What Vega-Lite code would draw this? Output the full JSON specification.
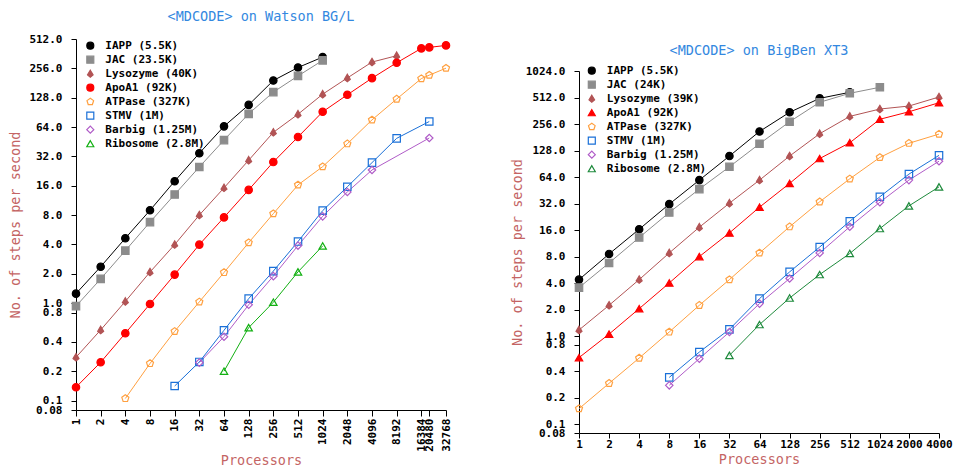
{
  "$schema": "https://vega.github.io/schema/vega-lite/v6.json",
  "padding": {"left": 8, "top": 9, "right": 0, "bottom": 0},
  "spacing": 57,
  "config": {
    "view": {"stroke": null},
    "font": "DejaVu Sans Mono",
    "axis": {
      "grid": false,
      "domainColor": "#000000",
      "domainWidth": 1,
      "tickColor": "#000000",
      "tickSize": 5,
      "labelFont": "DejaVu Sans Mono",
      "labelFontSize": 11,
      "labelFontWeight": "bold",
      "labelColor": "#000000",
      "labelOverlap": false,
      "labelFlush": false,
      "labelBound": false,
      "titleFont": "DejaVu Sans Mono",
      "titleFontSize": 13.5,
      "titleFontWeight": "normal",
      "titleColor": "#c46464"
    },
    "title": {
      "font": "DejaVu Sans Mono",
      "fontSize": 13.5,
      "fontWeight": "normal",
      "color": "#3388e0",
      "anchor": "middle",
      "frame": "group"
    },
    "legend": {
      "orient": "none",
      "padding": 0,
      "rowPadding": 0,
      "labelFont": "DejaVu Sans Mono",
      "labelFontSize": 11,
      "labelFontWeight": "bold",
      "labelOffset": 9.5,
      "symbolSize": 49,
      "symbolStrokeWidth": 1.2,
      "labelLimit": 300
    }
  },
  "datasets": {
    "bgl": [
      {"s": "IAPP (5.5K)", "p": 1, "v": 1.25}, {"s": "IAPP (5.5K)", "p": 2, "v": 2.36}, {"s": "IAPP (5.5K)", "p": 4, "v": 4.63}, {"s": "IAPP (5.5K)", "p": 8, "v": 8.95}, {"s": "IAPP (5.5K)", "p": 16, "v": 17.8}, {"s": "IAPP (5.5K)", "p": 32, "v": 34.5}, {"s": "IAPP (5.5K)", "p": 64, "v": 65}, {"s": "IAPP (5.5K)", "p": 128, "v": 108}, {"s": "IAPP (5.5K)", "p": 256, "v": 192}, {"s": "IAPP (5.5K)", "p": 512, "v": 261}, {"s": "IAPP (5.5K)", "p": 1024, "v": 334},
      {"s": "JAC (23.5K)", "p": 1, "v": 0.93}, {"s": "JAC (23.5K)", "p": 2, "v": 1.77}, {"s": "JAC (23.5K)", "p": 4, "v": 3.45}, {"s": "JAC (23.5K)", "p": 8, "v": 6.77}, {"s": "JAC (23.5K)", "p": 16, "v": 13}, {"s": "JAC (23.5K)", "p": 32, "v": 24.9}, {"s": "JAC (23.5K)", "p": 64, "v": 47}, {"s": "JAC (23.5K)", "p": 128, "v": 87.4}, {"s": "JAC (23.5K)", "p": 256, "v": 146}, {"s": "JAC (23.5K)", "p": 512, "v": 214}, {"s": "JAC (23.5K)", "p": 1024, "v": 309},
      {"s": "Lysozyme (40K)", "p": 1, "v": 0.278}, {"s": "Lysozyme (40K)", "p": 2, "v": 0.53}, {"s": "Lysozyme (40K)", "p": 4, "v": 1.04}, {"s": "Lysozyme (40K)", "p": 8, "v": 2.08}, {"s": "Lysozyme (40K)", "p": 16, "v": 3.98}, {"s": "Lysozyme (40K)", "p": 32, "v": 8.0}, {"s": "Lysozyme (40K)", "p": 64, "v": 15.2}, {"s": "Lysozyme (40K)", "p": 128, "v": 29.2}, {"s": "Lysozyme (40K)", "p": 256, "v": 56.4}, {"s": "Lysozyme (40K)", "p": 512, "v": 86.6}, {"s": "Lysozyme (40K)", "p": 1024, "v": 139}, {"s": "Lysozyme (40K)", "p": 2048, "v": 204}, {"s": "Lysozyme (40K)", "p": 4096, "v": 297}, {"s": "Lysozyme (40K)", "p": 8192, "v": 345},
      {"s": "ApoA1 (92K)", "p": 1, "v": 0.137}, {"s": "ApoA1 (92K)", "p": 2, "v": 0.247}, {"s": "ApoA1 (92K)", "p": 4, "v": 0.49}, {"s": "ApoA1 (92K)", "p": 8, "v": 0.98}, {"s": "ApoA1 (92K)", "p": 16, "v": 1.96}, {"s": "ApoA1 (92K)", "p": 32, "v": 3.98}, {"s": "ApoA1 (92K)", "p": 64, "v": 7.57}, {"s": "ApoA1 (92K)", "p": 128, "v": 14.5}, {"s": "ApoA1 (92K)", "p": 256, "v": 28}, {"s": "ApoA1 (92K)", "p": 512, "v": 50.6}, {"s": "ApoA1 (92K)", "p": 1024, "v": 91.7}, {"s": "ApoA1 (92K)", "p": 2048, "v": 137}, {"s": "ApoA1 (92K)", "p": 4096, "v": 203}, {"s": "ApoA1 (92K)", "p": 8192, "v": 292}, {"s": "ApoA1 (92K)", "p": 16384, "v": 410}, {"s": "ApoA1 (92K)", "p": 20480, "v": 420}, {"s": "ApoA1 (92K)", "p": 32768, "v": 440},
      {"s": "ATPase (327K)", "p": 4, "v": 0.105}, {"s": "ATPase (327K)", "p": 8, "v": 0.24}, {"s": "ATPase (327K)", "p": 16, "v": 0.513}, {"s": "ATPase (327K)", "p": 32, "v": 1.03}, {"s": "ATPase (327K)", "p": 64, "v": 2.06}, {"s": "ATPase (327K)", "p": 128, "v": 4.17}, {"s": "ATPase (327K)", "p": 256, "v": 8.27}, {"s": "ATPase (327K)", "p": 512, "v": 16.3}, {"s": "ATPase (327K)", "p": 1024, "v": 25.1}, {"s": "ATPase (327K)", "p": 2048, "v": 43.1}, {"s": "ATPase (327K)", "p": 4096, "v": 75.8}, {"s": "ATPase (327K)", "p": 8192, "v": 124}, {"s": "ATPase (327K)", "p": 16384, "v": 201}, {"s": "ATPase (327K)", "p": 20480, "v": 218}, {"s": "ATPase (327K)", "p": 32768, "v": 257},
      {"s": "STMV (1M)", "p": 16, "v": 0.141}, {"s": "STMV (1M)", "p": 32, "v": 0.249}, {"s": "STMV (1M)", "p": 64, "v": 0.526}, {"s": "STMV (1M)", "p": 128, "v": 1.11}, {"s": "STMV (1M)", "p": 256, "v": 2.13}, {"s": "STMV (1M)", "p": 512, "v": 4.28}, {"s": "STMV (1M)", "p": 1024, "v": 8.88}, {"s": "STMV (1M)", "p": 2048, "v": 15.6}, {"s": "STMV (1M)", "p": 4096, "v": 27.6}, {"s": "STMV (1M)", "p": 8192, "v": 49}, {"s": "STMV (1M)", "p": 20480, "v": 72.9},
      {"s": "Barbig (1.25M)", "p": 32, "v": 0.245}, {"s": "Barbig (1.25M)", "p": 64, "v": 0.452}, {"s": "Barbig (1.25M)", "p": 128, "v": 0.96}, {"s": "Barbig (1.25M)", "p": 256, "v": 1.89}, {"s": "Barbig (1.25M)", "p": 512, "v": 3.89}, {"s": "Barbig (1.25M)", "p": 1024, "v": 7.76}, {"s": "Barbig (1.25M)", "p": 2048, "v": 13.8}, {"s": "Barbig (1.25M)", "p": 4096, "v": 23.2}, {"s": "Barbig (1.25M)", "p": 20480, "v": 49.4},
      {"s": "Ribosome (2.8M)", "p": 64, "v": 0.2}, {"s": "Ribosome (2.8M)", "p": 128, "v": 0.56}, {"s": "Ribosome (2.8M)", "p": 256, "v": 1.02}, {"s": "Ribosome (2.8M)", "p": 512, "v": 2.09}, {"s": "Ribosome (2.8M)", "p": 1024, "v": 3.86}
    ],
    "xt3": [
      {"s": "IAPP (5.5K)", "p": 1, "v": 4.4}, {"s": "IAPP (5.5K)", "p": 2, "v": 8.6}, {"s": "IAPP (5.5K)", "p": 4, "v": 16.4}, {"s": "IAPP (5.5K)", "p": 8, "v": 31.6}, {"s": "IAPP (5.5K)", "p": 16, "v": 59.2}, {"s": "IAPP (5.5K)", "p": 32, "v": 111}, {"s": "IAPP (5.5K)", "p": 64, "v": 211}, {"s": "IAPP (5.5K)", "p": 128, "v": 348}, {"s": "IAPP (5.5K)", "p": 256, "v": 501}, {"s": "IAPP (5.5K)", "p": 512, "v": 587},
      {"s": "JAC (24K)", "p": 1, "v": 3.57}, {"s": "JAC (24K)", "p": 2, "v": 6.8}, {"s": "JAC (24K)", "p": 4, "v": 13.2}, {"s": "JAC (24K)", "p": 8, "v": 25.4}, {"s": "JAC (24K)", "p": 16, "v": 46.8}, {"s": "JAC (24K)", "p": 32, "v": 83.8}, {"s": "JAC (24K)", "p": 64, "v": 153}, {"s": "JAC (24K)", "p": 128, "v": 272}, {"s": "JAC (24K)", "p": 256, "v": 452}, {"s": "JAC (24K)", "p": 512, "v": 572}, {"s": "JAC (24K)", "p": 1024, "v": 669},
      {"s": "Lysozyme (39K)", "p": 1, "v": 1.18}, {"s": "Lysozyme (39K)", "p": 2, "v": 2.25}, {"s": "Lysozyme (39K)", "p": 4, "v": 4.4}, {"s": "Lysozyme (39K)", "p": 8, "v": 8.83}, {"s": "Lysozyme (39K)", "p": 16, "v": 17.3}, {"s": "Lysozyme (39K)", "p": 32, "v": 32.4}, {"s": "Lysozyme (39K)", "p": 64, "v": 59.2}, {"s": "Lysozyme (39K)", "p": 128, "v": 111}, {"s": "Lysozyme (39K)", "p": 256, "v": 199}, {"s": "Lysozyme (39K)", "p": 512, "v": 313}, {"s": "Lysozyme (39K)", "p": 1024, "v": 379}, {"s": "Lysozyme (39K)", "p": 2000, "v": 410}, {"s": "Lysozyme (39K)", "p": 4000, "v": 519},
      {"s": "ApoA1 (92K)", "p": 1, "v": 0.573}, {"s": "ApoA1 (92K)", "p": 2, "v": 1.06}, {"s": "ApoA1 (92K)", "p": 4, "v": 2.06}, {"s": "ApoA1 (92K)", "p": 8, "v": 4.03}, {"s": "ApoA1 (92K)", "p": 16, "v": 8.03}, {"s": "ApoA1 (92K)", "p": 32, "v": 14.9}, {"s": "ApoA1 (92K)", "p": 64, "v": 29.2}, {"s": "ApoA1 (92K)", "p": 128, "v": 54.3}, {"s": "ApoA1 (92K)", "p": 256, "v": 104}, {"s": "ApoA1 (92K)", "p": 512, "v": 157}, {"s": "ApoA1 (92K)", "p": 1024, "v": 290}, {"s": "ApoA1 (92K)", "p": 2000, "v": 353}, {"s": "ApoA1 (92K)", "p": 4000, "v": 447},
      {"s": "ATPase (327K)", "p": 1, "v": 0.151}, {"s": "ATPase (327K)", "p": 2, "v": 0.293}, {"s": "ATPase (327K)", "p": 4, "v": 0.567}, {"s": "ATPase (327K)", "p": 8, "v": 1.12}, {"s": "ATPase (327K)", "p": 16, "v": 2.25}, {"s": "ATPase (327K)", "p": 32, "v": 4.4}, {"s": "ATPase (327K)", "p": 64, "v": 8.83}, {"s": "ATPase (327K)", "p": 128, "v": 17.5}, {"s": "ATPase (327K)", "p": 256, "v": 33.6}, {"s": "ATPase (327K)", "p": 512, "v": 61.2}, {"s": "ATPase (327K)", "p": 1024, "v": 107}, {"s": "ATPase (327K)", "p": 2000, "v": 155}, {"s": "ATPase (327K)", "p": 4000, "v": 197},
      {"s": "STMV (1M)", "p": 8, "v": 0.342}, {"s": "STMV (1M)", "p": 16, "v": 0.663}, {"s": "STMV (1M)", "p": 32, "v": 1.2}, {"s": "STMV (1M)", "p": 64, "v": 2.68}, {"s": "STMV (1M)", "p": 128, "v": 5.38}, {"s": "STMV (1M)", "p": 256, "v": 10.3}, {"s": "STMV (1M)", "p": 512, "v": 20.2}, {"s": "STMV (1M)", "p": 1024, "v": 38.3}, {"s": "STMV (1M)", "p": 2000, "v": 69.2}, {"s": "STMV (1M)", "p": 4000, "v": 113},
      {"s": "Barbig (1.25M)", "p": 8, "v": 0.278}, {"s": "Barbig (1.25M)", "p": 16, "v": 0.558}, {"s": "Barbig (1.25M)", "p": 32, "v": 1.12}, {"s": "Barbig (1.25M)", "p": 64, "v": 2.35}, {"s": "Barbig (1.25M)", "p": 128, "v": 4.53}, {"s": "Barbig (1.25M)", "p": 256, "v": 8.83}, {"s": "Barbig (1.25M)", "p": 512, "v": 17.5}, {"s": "Barbig (1.25M)", "p": 1024, "v": 33.2}, {"s": "Barbig (1.25M)", "p": 2000, "v": 59.2}, {"s": "Barbig (1.25M)", "p": 4000, "v": 97},
      {"s": "Ribosome (2.8M)", "p": 32, "v": 0.608}, {"s": "Ribosome (2.8M)", "p": 64, "v": 1.36}, {"s": "Ribosome (2.8M)", "p": 128, "v": 2.72}, {"s": "Ribosome (2.8M)", "p": 256, "v": 5.02}, {"s": "Ribosome (2.8M)", "p": 512, "v": 8.7}, {"s": "Ribosome (2.8M)", "p": 1024, "v": 16.7}, {"s": "Ribosome (2.8M)", "p": 2000, "v": 30.2}, {"s": "Ribosome (2.8M)", "p": 4000, "v": 49.6}
    ]
  },
  "resolve": {"scale": {"stroke": "independent", "fill": "independent", "shape": "independent"}},
  "hconcat": [
    {
      "title": {"text": "<MDCODE> on Watson BG/L", "offset": 10},
      "width": 370,
      "height": 371,
      "data": {"name": "bgl"},
      "encoding": {
        "x": {
          "field": "p", "type": "quantitative",
          "scale": {"type": "log", "base": 2, "domain": [1, 32768], "nice": false},
          "axis": {"title": "Processors", "values": [1, 2, 4, 8, 16, 32, 64, 128, 256, 512, 1024, 2048, 4096, 8192, 16384, 20480, 32768], "format": "d", "labelAngle": 270, "labelAlign": "right", "labelBaseline": "middle", "labelPadding": 2, "tickSize": 6, "titlePadding": 2}
        },
        "y": {
          "field": "v", "type": "quantitative",
          "scale": {"type": "log", "domain": [0.08, 512], "nice": false},
          "axis": {"title": "No. of steps per second", "values": [0.08, 0.1, 0.2, 0.4, 0.8, 1, 2, 4, 8, 16, 32, 64, 128, 256, 512], "labelExpr": "datum.value >= 1 ? format(datum.value, '.1f') : '' + datum.value", "labelPadding": 9, "titlePadding": 6}
        }
      },
      "layer": [
        {
          "mark": {"type": "line", "strokeWidth": 1},
          "encoding": {
            "stroke": {"field": "s", "type": "nominal",
              "scale": {"domain": ["IAPP (5.5K)", "JAC (23.5K)", "Lysozyme (40K)", "ApoA1 (92K)", "ATPase (327K)", "STMV (1M)", "Barbig (1.25M)", "Ribosome (2.8M)"],
                        "range": ["#000000", "#8c8c8c", "#b25455", "#ff0000", "#ffa040", "#1a70d8", "#b05cc8", "#12b012"]}}
          }
        },
        {
          "mark": {"type": "point", "size": 55, "strokeWidth": 1.2, "opacity": 1},
          "encoding": {
            "stroke": {"field": "s", "type": "nominal",
              "scale": {"domain": ["IAPP (5.5K)", "JAC (23.5K)", "Lysozyme (40K)", "ApoA1 (92K)", "ATPase (327K)", "STMV (1M)", "Barbig (1.25M)", "Ribosome (2.8M)"],
                        "range": ["#000000", "#8c8c8c", "#b25455", "#ff0000", "#ffa040", "#1a70d8", "#b05cc8", "#12b012"]},
              "legend": {"title": null, "legendX": 8.8, "legendY": -0.3, "rowPadding": 0, "clipHeight": 14,
                "encode": {"labels": {"update": {"fill": {"signal": "['#000000','#8c8c8c','#b25455','#ff0000','#ffa040','#1a70d8','#b05cc8','#12b012'][indexof(['IAPP (5.5K)','JAC (23.5K)','Lysozyme (40K)','ApoA1 (92K)','ATPase (327K)','STMV (1M)','Barbig (1.25M)','Ribosome (2.8M)'], datum.value)]"}}}}}},
            "fill": {"field": "s", "type": "nominal",
              "scale": {"domain": ["IAPP (5.5K)", "JAC (23.5K)", "Lysozyme (40K)", "ApoA1 (92K)", "ATPase (327K)", "STMV (1M)", "Barbig (1.25M)", "Ribosome (2.8M)"],
                        "range": ["#000000", "#8c8c8c", "#b25455", "#ff0000", "transparent", "transparent", "transparent", "transparent"]}},
            "shape": {"field": "s", "type": "nominal",
              "scale": {"domain": ["IAPP (5.5K)", "JAC (23.5K)", "Lysozyme (40K)", "ApoA1 (92K)", "ATPase (327K)", "STMV (1M)", "Barbig (1.25M)", "Ribosome (2.8M)"],
                        "range": ["circle", "square", "M0,-1L0.45,-0.25L0.8,0.35L0,1L-0.8,0.35L-0.45,-0.25Z", "circle", "M0,-1L0.95,-0.31L0.59,0.81L-0.59,0.81L-0.95,-0.31Z", "square", "diamond", "triangle-up"]}}
          }
        }
      ]
    },
    {
      "spacing": 0,
      "vconcat": [
        {"width": 360, "height": 4, "data": {"values": []}, "mark": {"type": "point"}},
        {
          "title": {"text": "<MDCODE> on BigBen XT3", "offset": 8},
          "width": 360,
          "height": 362,
          "data": {"name": "xt3"},
          "encoding": {
            "x": {
              "field": "p", "type": "quantitative",
              "scale": {"type": "log", "base": 2, "domain": [1, 4000], "nice": false},
              "axis": {"title": "Processors", "values": [1, 2, 4, 8, 16, 32, 64, 128, 256, 512, 1024, 2000, 4000], "format": "d", "labelAngle": 0, "labelPadding": 0, "titlePadding": 3}
            },
            "y": {
              "field": "v", "type": "quantitative",
              "scale": {"type": "log", "domain": [0.08, 1024], "nice": false},
              "axis": {"title": "No. of steps per second", "values": [0.08, 0.1, 0.2, 0.4, 0.8, 1, 2, 4, 8, 16, 32, 64, 128, 256, 512, 1024], "labelExpr": "datum.value >= 1 ? format(datum.value, '.1f') : '' + datum.value", "labelPadding": 9, "titlePadding": 1}
            }
          },
          "layer": [
            {
              "mark": {"type": "line", "strokeWidth": 1},
              "encoding": {
                "stroke": {"field": "s", "type": "nominal",
                  "scale": {"domain": ["IAPP (5.5K)", "JAC (24K)", "Lysozyme (39K)", "ApoA1 (92K)", "ATPase (327K)", "STMV (1M)", "Barbig (1.25M)", "Ribosome (2.8M)"],
                            "range": ["#000000", "#8c8c8c", "#b25455", "#ff0000", "#ffa040", "#1a70d8", "#b05cc8", "#1e8a3c"]}}
              }
            },
            {
              "mark": {"type": "point", "size": 55, "strokeWidth": 1.2, "opacity": 1},
              "encoding": {
                "stroke": {"field": "s", "type": "nominal",
                  "scale": {"domain": ["IAPP (5.5K)", "JAC (24K)", "Lysozyme (39K)", "ApoA1 (92K)", "ATPase (327K)", "STMV (1M)", "Barbig (1.25M)", "Ribosome (2.8M)"],
                            "range": ["#000000", "#8c8c8c", "#b25455", "#ff0000", "#ffa040", "#1a70d8", "#b05cc8", "#1e8a3c"]},
                  "legend": {"title": null, "legendX": 7.3, "legendY": 25, "rowPadding": 0, "clipHeight": 13.4,
                    "encode": {"labels": {"update": {"fill": {"signal": "['#000000','#8c8c8c','#b25455','#ff0000','#ffa040','#1a70d8','#b05cc8','#1e8a3c'][indexof(['IAPP (5.5K)','JAC (24K)','Lysozyme (39K)','ApoA1 (92K)','ATPase (327K)','STMV (1M)','Barbig (1.25M)','Ribosome (2.8M)'], datum.value)]"}}}}}},
                "fill": {"field": "s", "type": "nominal",
                  "scale": {"domain": ["IAPP (5.5K)", "JAC (24K)", "Lysozyme (39K)", "ApoA1 (92K)", "ATPase (327K)", "STMV (1M)", "Barbig (1.25M)", "Ribosome (2.8M)"],
                            "range": ["#000000", "#8c8c8c", "#b25455", "#ff0000", "transparent", "transparent", "transparent", "transparent"]}},
                "shape": {"field": "s", "type": "nominal",
                  "scale": {"domain": ["IAPP (5.5K)", "JAC (24K)", "Lysozyme (39K)", "ApoA1 (92K)", "ATPase (327K)", "STMV (1M)", "Barbig (1.25M)", "Ribosome (2.8M)"],
                            "range": ["circle", "square", "M0,-1L0.45,-0.25L0.8,0.35L0,1L-0.8,0.35L-0.45,-0.25Z", "triangle-up", "M0,-1L0.95,-0.31L0.59,0.81L-0.59,0.81L-0.95,-0.31Z", "square", "diamond", "triangle-up"]}}
              }
            }
          ]
        }
      ]
    }
  ]
}
